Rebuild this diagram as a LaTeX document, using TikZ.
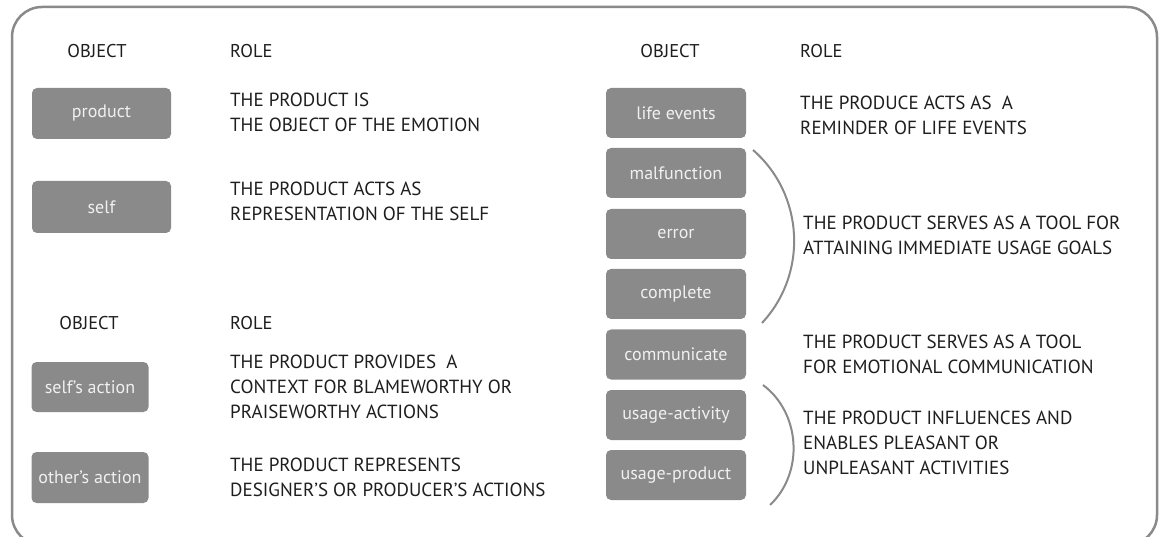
\documentclass[tikz,border=0pt]{standalone}
\usepackage{fontspec}
\setmainfont{PT Sans}
\definecolor{boxgray}{HTML}{8A8A8A}
\definecolor{boxtext}{HTML}{F0F0F0}
\definecolor{txt}{HTML}{1E1E1E}
\definecolor{framegray}{HTML}{8A8A8A}
\begin{document}
\begin{tikzpicture}[x=1pt,y=-1pt,
  objbox/.style={fill=boxgray, rounded corners=5pt, text=boxtext, inner sep=0pt,
    minimum width=140pt, minimum height=50pt, font=\fontsize{18}{19}\selectfont},
  roletext/.style={anchor=west, align=left, inner sep=0pt, text=txt,
    font=\fontsize{19}{25}\selectfont},
  header/.style={inner sep=0pt, text=txt, font=\fontsize{18.5}{20}\selectfont},
  bracket/.style={draw=framegray, line width=2pt}]
\useasboundingbox (0,0) rectangle (1162,537);
\clip (0,0) rectangle (1162,537);
\draw[framegray, line width=2.5pt, rounded corners=30pt] (12,7) rectangle (1157,545);

% headers
\node[header] (h1) at (97,51) {OBJECT};
\node[header, anchor=west] (h2) at (230,51) {ROLE};
\node[header] (h3) at (670,51) {OBJECT};
\node[header, anchor=west] (h4) at (800,51) {ROLE};
\node[header] (h5) at (89,323) {OBJECT};
\node[header, anchor=west] (h6) at (230,323) {ROLE};

% left boxes
\node[objbox, minimum width=139pt, minimum height=51pt] (product) at (101.5,113.5) {product};
\node[objbox, minimum width=139pt, minimum height=52pt] (self) at (101.5,207) {self};
\node[objbox, minimum width=117pt, minimum height=50pt] (selfact) at (90,387) {self's action};
\node[objbox, minimum width=117pt, minimum height=51pt] (otheract) at (90,477.5) {other's action};

% left texts
\node[roletext] (t1) at (230,112.5) {THE PRODUCT IS\\THE OBJECT OF THE EMOTION};
\node[roletext] (t2) at (230,201.5) {THE PRODUCT ACTS AS\\REPRESENTATION OF THE SELF};
\node[roletext] (t3) at (230,387) {THE PRODUCT PROVIDES\ \ A\\CONTEXT FOR BLAMEWORTHY OR\\PRAISEWORTHY ACTIONS};
\node[roletext] (t4) at (230,477) {THE PRODUCT REPRESENTS\\DESIGNER'S OR PRODUCER'S ACTIONS};

% right boxes
\node[objbox] (life) at (676,113) {life events};
\node[objbox] (malf) at (676,173) {malfunction};
\node[objbox] (error) at (676,234) {error};
\node[objbox] (compl) at (676,294) {complete};
\node[objbox] (comm) at (676,354.5) {communicate};
\node[objbox] (usact) at (676,415) {usage-activity};
\node[objbox] (usprod) at (676,475) {usage-product};

% right texts
\node[roletext] (r1) at (800,115.5) {THE PRODUCE ACTS AS\ \ A\\REMINDER OF LIFE EVENTS};
\node[roletext] (r2) at (803,235.5) {THE PRODUCT SERVES AS A TOOL FOR\\ATTAINING IMMEDIATE USAGE GOALS};
\node[roletext] (r3) at (803,354.5) {THE PRODUCT SERVES AS A TOOL\\FOR EMOTIONAL COMMUNICATION};
\node[roletext] (r4) at (803,443) {THE PRODUCT INFLUENCES AND\\ENABLES PLEASANT OR\\UNPLEASANT ACTIVITIES};

% brackets
\coordinate (a1s) at (753,150);
\coordinate (a1e) at (762,323);
\coordinate (a2s) at (763,385);
\coordinate (a2e) at (770,505);
\draw[bracket] (a1s) to[bend left=46] (a1e);
\draw[bracket] (a2s) to[bend left=50] (a2e);
\end{tikzpicture}
\end{document}
